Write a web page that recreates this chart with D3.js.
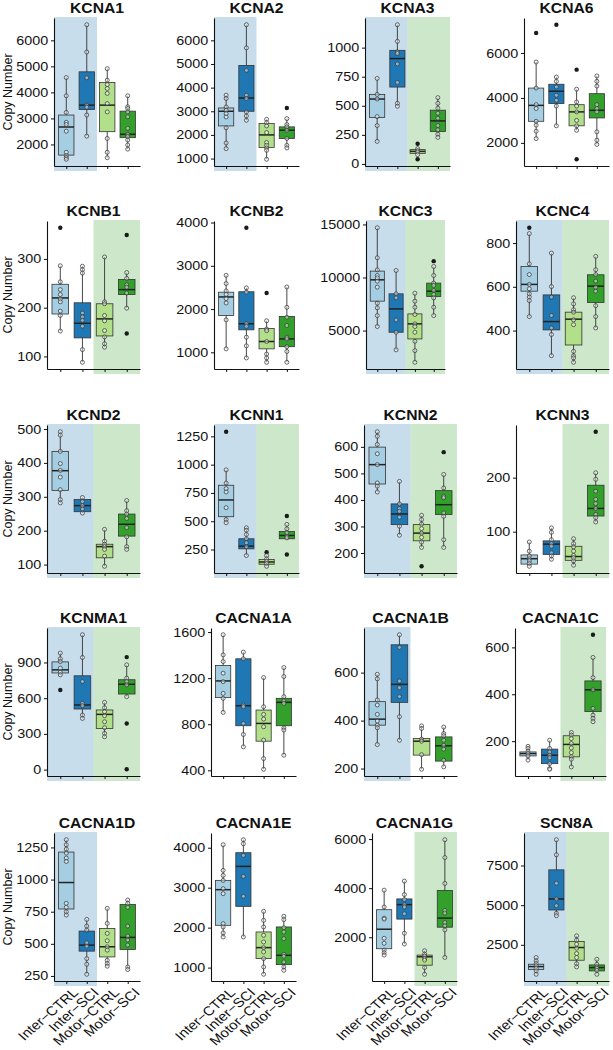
<!DOCTYPE html>
<html>
<head>
<meta charset="utf-8">
<script src="https://cdn.jsdelivr.net/npm/d3@7"></script>
<style>
body { margin: 0; background: #fff; }
text { font-family: "Liberation Sans", Arial, Helvetica, sans-serif; }
</style>
</head>
<body>
<script>
// groups on the x axis and their colours
var groups = ["Inter\u2212CTRL", "Inter\u2212SCI", "Motor\u2212CTRL", "Motor\u2212SCI"];
var fills = ["#a6cee3", "#1f78b4", "#b2df8a", "#33a02c"];

var genes = ["KCNA1", "KCNA2", "KCNA3", "KCNA6",
             "KCNB1", "KCNB2", "KCNC3", "KCNC4",
             "KCND2", "KCNN1", "KCNN2", "KCNN3",
             "KCNMA1", "CACNA1A", "CACNA1B", "CACNA1C",
             "CACNA1D", "CACNA1E", "CACNA1G", "SCN8A"];

// shaded backgrounds (significant inter / motor comparison)
var interSig = [1, 1, 1, 0,  0, 0, 1, 1,  1, 1, 1, 0,  1, 0, 1, 0,  1, 0, 0, 1];
var motorSig = [0, 0, 1, 0,  1, 0, 1, 1,  1, 1, 1, 1,  1, 0, 0, 1,  0, 0, 1, 1];

// y tick labels
var yTicks = [
  [2000, 3000, 4000, 5000, 6000], [1000, 2000, 3000, 4000, 5000, 6000], [0, 250, 500, 750, 1000], [2000, 4000, 6000],
  [100, 200, 300], [1000, 2000, 3000, 4000], [5000, 10000, 15000], [400, 600, 800],
  [100, 200, 300, 400, 500], [250, 500, 750, 1000, 1250], [200, 300, 400, 500, 600], [100, 200],
  [0, 300, 600, 900], [400, 800, 1200, 1600], [200, 400, 600], [200, 400, 600],
  [250, 500, 750, 1000, 1250], [1000, 2000, 3000, 4000], [2000, 4000, 6000], [2500, 5000, 7500]
];

// points per group and boxes [q1, median, q3]
var kcna1 = [[4570, 3870, 3230, 2850, 2770, 2510, 1700, 1570, 1490, 1430], [6600, 5550, 4560, 3510, 3430, 3130, 2320], [4910, 4470, 4300, 4150, 3960, 3570, 3250, 2230, 1700, 1490], [3870, 3450, 3380, 3250, 3060, 2620, 2390, 2300, 2170, 1980, 1820]];
var kcna1Box = [[1590, 2670, 3130], [3340, 3510, 4790], [2490, 3510, 4380], [2260, 2390, 3280]];
var kcna2 = [[3680, 3540, 3180, 3040, 2900, 2760, 2300, 1660, 1420], [6660, 5680, 4730, 3680, 3540, 2970, 2800, 2620], [2660, 2520, 2380, 2100, 1680, 1560, 1450, 1350, 970], [3140, 2690, 2440, 2340, 2200, 1850, 1560, 1450]];
var kcna2Box = [[2380, 3000, 3140], [3000, 3560, 4940], [1470, 2000, 2480], [1850, 2200, 2340]];
var kcna3 = [[735, 598, 558, 407, 330, 194], [1197, 1054, 963, 949, 860, 701, 521, 496], [174, 131, 114, 103, 80, 40], [570, 521, 479, 436, 393, 330, 293, 256, 228]];
var kcna3Box = [[399, 558, 598], [661, 906, 977], [91, 108, 123], [279, 370, 462]];
var kcna6 = [[6890, 5600, 4440, 3700, 3530, 2960, 2790, 2520, 2190], [7260, 4930, 4740, 4490, 4120, 3900, 3640, 2760], [5260, 4390, 3820, 3640, 3380, 3000, 2760, 2560, 1270], [4980, 4740, 4530, 3700, 3530, 3380, 2490, 2120, 1930]];
var kcna6Box = [[2960, 3670, 4440], [3750, 4300, 4610], [2760, 3380, 3700], [3110, 3450, 4190]];
var kcnb1 = [[364, 286, 253, 237, 227, 218, 212, 193, 184, 152], [285, 278, 271, 189, 181, 174, 162, 114, 88], [304, 212, 208, 184, 173, 153, 140, 126, 119], [349, 272, 260, 247, 242, 230, 199, 147]];
var kcnb1Box = [[187, 220, 248], [138, 168, 210], [142, 177, 208], [227, 237, 258]];
var kcnb2 = [[2780, 2590, 2420, 2340, 2240, 2140, 1750, 1080], [3880, 2490, 2390, 1660, 1600, 1350, 1150, 870], [2370, 1730, 1540, 1500, 1250, 960, 870, 770], [2510, 2040, 1810, 1620, 1350, 1310, 1130, 1020, 770]];
var kcnb2Box = [[1850, 2280, 2390], [1520, 1660, 2400], [1080, 1250, 1550], [1130, 1310, 1830]];
var kcnc3 = [[14690, 11860, 10720, 10190, 9970, 9650, 9090, 7580, 7140, 6410, 5380], [10660, 8460, 8080, 6000, 4840, 3180], [8520, 7770, 7200, 6510, 5630, 5380, 4840, 3990, 3110, 2010], [11540, 11040, 10190, 9470, 9250, 8770, 8400, 8080, 7200, 6410]];
var kcnc3Box = [[7770, 9780, 10600], [4840, 7040, 8460], [4210, 5630, 6570], [8210, 8710, 9470]];
var kcnc4 = [[870, 843, 705, 656, 611, 591, 568, 553, 537, 464], [754, 601, 553, 469, 412, 382, 285], [550, 522, 495, 484, 449, 427, 305, 285, 275, 255], [739, 678, 656, 626, 598, 580, 514, 464, 412]];
var kcnc4Box = [[580, 611, 693], [403, 441, 563], [334, 452, 484], [528, 603, 655]];
var kcnd2 = [[492, 482, 434, 398, 378, 358, 321, 292, 282], [298, 286, 274, 264, 252], [204, 169, 160, 153, 145, 125, 95], [289, 259, 249, 236, 209, 182, 153, 145]];
var kcnd2Box = [[319, 377, 434], [256, 274, 292], [120, 153, 160], [184, 219, 249]];
var kcnn1 = [[1291, 954, 837, 788, 759, 620, 515, 487], [442, 421, 383, 345, 309, 274, 197], [226, 197, 167, 146, 126, 102], [546, 472, 433, 398, 368, 353, 206]];
var kcnn1Box = [[540, 688, 818], [256, 280, 345], [120, 140, 161], [345, 374, 410]];
var kcnn2 = [[657, 640, 609, 574, 533, 464, 452, 430], [470, 385, 367, 357, 335, 301, 267], [342, 326, 309, 292, 275, 259, 241, 221, 150], [580, 496, 445, 414, 408, 351, 338, 250, 221]];
var kcnn2Box = [[460, 533, 599], [307, 347, 385], [246, 275, 307], [345, 382, 435]];
var kcnn3 = [[81, 64, 55, 50, 46, 41, 36], [107, 99, 85, 78, 73, 61, 55, 49], [87, 78, 72, 64, 56, 52, 46, 38], [285, 209, 197, 175, 160, 152, 143, 132, 126, 118]];
var kcnn3Box = [[40, 50, 57], [58, 77, 83], [47, 54, 73], [129, 143, 186]];
var kcnma1 = [[979, 931, 908, 852, 818, 796, 669], [1133, 942, 740, 557, 537, 458, 430], [565, 520, 487, 453, 402, 352, 304, 276], [945, 880, 768, 740, 712, 613, 388, 3]];
var kcnma1Box = [[812, 838, 905], [509, 543, 788], [346, 464, 501], [635, 717, 755]];
var cacna1a = [[1577, 1402, 1344, 1243, 1170, 1068, 1025, 903], [1426, 1368, 967, 952, 807, 711, 604], [1205, 952, 885, 845, 778, 662, 502, 409], [1292, 1214, 1039, 1002, 981, 769, 749, 531]];
var cacna1aBox = [[1031, 1176, 1310], [787, 961, 1368], [653, 807, 923], [787, 990, 1025]];
var cacna1b = [[593, 574, 486, 465, 426, 398, 381, 370, 300], [758, 705, 565, 537, 500, 416, 318], [378, 367, 323, 314, 258, 197], [373, 346, 337, 318, 297, 281, 235, 207]];
var cacna1bBox = [[381, 406, 479], [476, 551, 716], [256, 314, 325], [231, 295, 332]];
var cacna1c = [[178, 169, 157, 147, 137, 119], [204, 169, 154, 140, 129, 104, 83, 80], [237, 226, 211, 190, 171, 151, 133, 123, 90], [654, 557, 471, 419, 340, 311, 297, 283]];
var cacna1cBox = [[137, 147, 154], [104, 140, 166], [133, 186, 223], [326, 419, 457]];
var cacna1d = [[1310, 1271, 1237, 1206, 1167, 1141, 815, 784, 750, 724], [690, 638, 607, 508, 482, 385, 341, 263], [776, 659, 581, 524, 477, 451, 372, 346, 326], [841, 815, 784, 638, 560, 529, 490, 320, 300]];
var cacna1dBox = [[771, 977, 1214], [443, 490, 599], [398, 477, 620], [456, 550, 807]];
var cacna1e = [[4075, 3433, 3308, 3183, 2975, 2850, 2100, 2017, 1867, 1767], [4200, 4100, 3808, 3283, 2783, 1767], [2408, 2183, 2017, 1808, 1642, 1500, 1392, 1225, 1017, 833], [2283, 2200, 2000, 1892, 1725, 1333, 1283, 1142, 1017, 933]];
var cacna1eBox = [[2058, 2950, 3183], [2533, 3533, 3875], [1225, 1500, 1892], [1075, 1308, 2017]];
var cacna1g = [[3918, 3233, 2781, 2740, 1959, 1753, 1479, 1370, 1274], [4288, 3740, 3534, 3329, 3233, 2959, 2164, 1726], [1452, 1315, 1233, 1137, 1068, 767, 493], [5973, 5247, 4192, 3096, 2986, 2602, 2465, 2301, 1178]];
var cacna1gBox = [[1534, 2328, 3123], [2740, 3329, 3562], [863, 1205, 1274], [2411, 2781, 3904]];
var scn8a = [[1698, 1487, 1318, 1170, 1022, 854, 643], [9125, 8175, 6382, 5390, 4968, 4483, 4335], [3069, 2795, 2542, 2288, 1951, 1698, 1318, 1107], [1592, 1276, 1107, 1022, 896, 643]];
var scn8aBox = [[938, 1128, 1276], [4694, 5390, 7226], [1529, 2330, 2710], [854, 1065, 1233]];

var points = [kcna1, kcna2, kcna3, kcna6, kcnb1, kcnb2, kcnc3, kcnc4, kcnd2, kcnn1, kcnn2, kcnn3,
              kcnma1, cacna1a, cacna1b, cacna1c, cacna1d, cacna1e, cacna1g, scn8a];
var boxes = [kcna1Box, kcna2Box, kcna3Box, kcna6Box, kcnb1Box, kcnb2Box, kcnc3Box, kcnc4Box, kcnd2Box, kcnn1Box, kcnn2Box, kcnn3Box,
             kcnma1Box, cacna1aBox, cacna1bBox, cacna1cBox, cacna1dBox, cacna1eBox, cacna1gBox, scn8aBox];

// layout of the panels (pixels)
var rowTop = [18, 221, 425, 628, 833];
var panelH = 148;
var panelLeft  = [54, 214, 365, 524,  47, 214, 366, 516,  47, 214, 364, 516,  47, 211, 364, 515,  54, 211, 372, 524];
var panelRight = [140, 299, 450, 609, 140, 299, 445, 609, 140, 299, 457, 609, 140, 296, 457, 606, 140, 296, 457, 609];
var stretch = "scale(1.15,1)";

var svg = d3.select("body").append("svg")
    .attr("width", 613)
    .attr("height", 1050);

genes.forEach(function(name, i) {
    var row = Math.floor(i / 4), col = i % 4;
    var top = rowTop[row], bottom = top + panelH;
    var pts = points[i], box = boxes[i];

    var all = d3.merge(pts).concat(d3.merge(box));
    var ext = d3.extent(all), pad = (ext[1] - ext[0]) * 0.05;
    var y = d3.scaleLinear().domain([ext[0] - pad, ext[1] + pad]).range([bottom, top]);
    var x = d3.scaleLinear().domain([0.4, 4.6]).range([panelLeft[i], panelRight[i]]);

    var g = svg.append("g").attr("class", "panel");

    // shaded backgrounds
    if (interSig[i]) {
        g.append("rect")
            .attr("x", x(0.4)).attr("width", x(2.5) - x(0.4))
            .attr("y", top - 1).attr("height", bottom - top + 6)
            .attr("fill", "#1f78b4").attr("fill-opacity", 0.25);
    }
    if (motorSig[i]) {
        g.append("rect")
            .attr("x", x(2.5)).attr("width", x(4.6) - x(2.5))
            .attr("y", top - 1).attr("height", bottom - top + 6)
            .attr("fill", "#33a02c").attr("fill-opacity", 0.25);
    }

    groups.forEach(function(grp, j) {
        var b = box[j], iqr = b[2] - b[0];
        var inside = pts[j].filter(function(v) { return v >= b[0] - 1.5 * iqr && v <= b[2] + 1.5 * iqr; });
        var outside = pts[j].filter(function(v) { return inside.indexOf(v) < 0; });
        var cx = x(j + 1), hw = x(1.375) - x(1);

        // whiskers
        g.append("line")
            .attr("x1", cx).attr("x2", cx)
            .attr("y1", y(d3.max(inside))).attr("y2", y(d3.min(inside)))
            .attr("stroke", "#333").attr("stroke-width", 0.9);
        g.append("rect")
            .attr("x", cx - hw).attr("width", 2 * hw)
            .attr("y", y(b[2])).attr("height", y(b[0]) - y(b[2]))
            .attr("fill", fills[j])
            .attr("stroke", "#333").attr("stroke-width", 0.8);
        g.append("line")
            .attr("x1", cx - hw).attr("x2", cx + hw)
            .attr("y1", y(b[1])).attr("y2", y(b[1]))
            .attr("stroke", "#222").attr("stroke-width", 1.5);

        // outliers
        g.selectAll(null)
            .data(outside)
            .enter()
            .append("circle")
            .attr("cx", cx).attr("cy", function(d) { return y(d); })
            .attr("r", 2.2)
            .attr("fill", "#1a1a1a");
        // the rest of the points
        g.selectAll(null)
            .data(inside)
            .enter()
            .append("circle")
            .attr("cx", cx).attr("cy", function(d) { return y(d); })
            .attr("r", 2)
            .attr("fill", "#fff").attr("fill-opacity", 0.45)
            .attr("stroke", "#3a3a3a").attr("stroke-width", 0.75);
    });

    // axes
    var ya = g.append("g")
        .attr("transform", "translate(" + panelLeft[i] + ",0)")
        .call(d3.axisLeft(y).tickValues(yTicks[i]).tickSize(3).tickSizeOuter(0).tickPadding(2)
            .tickFormat(function(d) { return d; }));
    ya.attr("font-size", 12.5).attr("color", "#111");
    ya.select(".domain").attr("stroke-width", 1.1);
    ya.selectAll("text").attr("transform", stretch);

    var xa = g.append("g")
        .attr("transform", "translate(0," + bottom + ")")
        .call(d3.axisBottom(x).tickValues([1, 2, 3, 4]).tickSize(3).tickSizeOuter(0)
            .tickFormat(function(d) { return row == 4 ? groups[d - 1] : ""; }));
    xa.attr("font-size", 13).attr("color", "#111");
    xa.select(".domain").attr("stroke-width", 1.1);
    if (row == 4) {
        xa.selectAll("text")
            .attr("y", null).attr("dy", "0.7em")
            .attr("text-anchor", "end")
            .attr("transform", "translate(5,6) " + stretch + " rotate(-45)");
    }

    // title
    g.append("text")
        .attr("transform", "translate(" + ((panelLeft[i] + panelRight[i]) / 2) + "," + (top - 5) + ") scale(1.08,1)")
        .attr("text-anchor", "middle")
        .attr("font-size", 14.5)
        .attr("font-weight", "bold")
        .attr("fill", "#111")
        .text(name);

    if (col == 0) {
        g.append("text")
            .attr("transform", "translate(12," + ((top + bottom) / 2) + ") rotate(-90)")
            .attr("text-anchor", "middle")
            .attr("font-size", 12.5)
            .attr("fill", "#111")
            .text("Copy Number");
    }
});
</script>
</body>
</html>
